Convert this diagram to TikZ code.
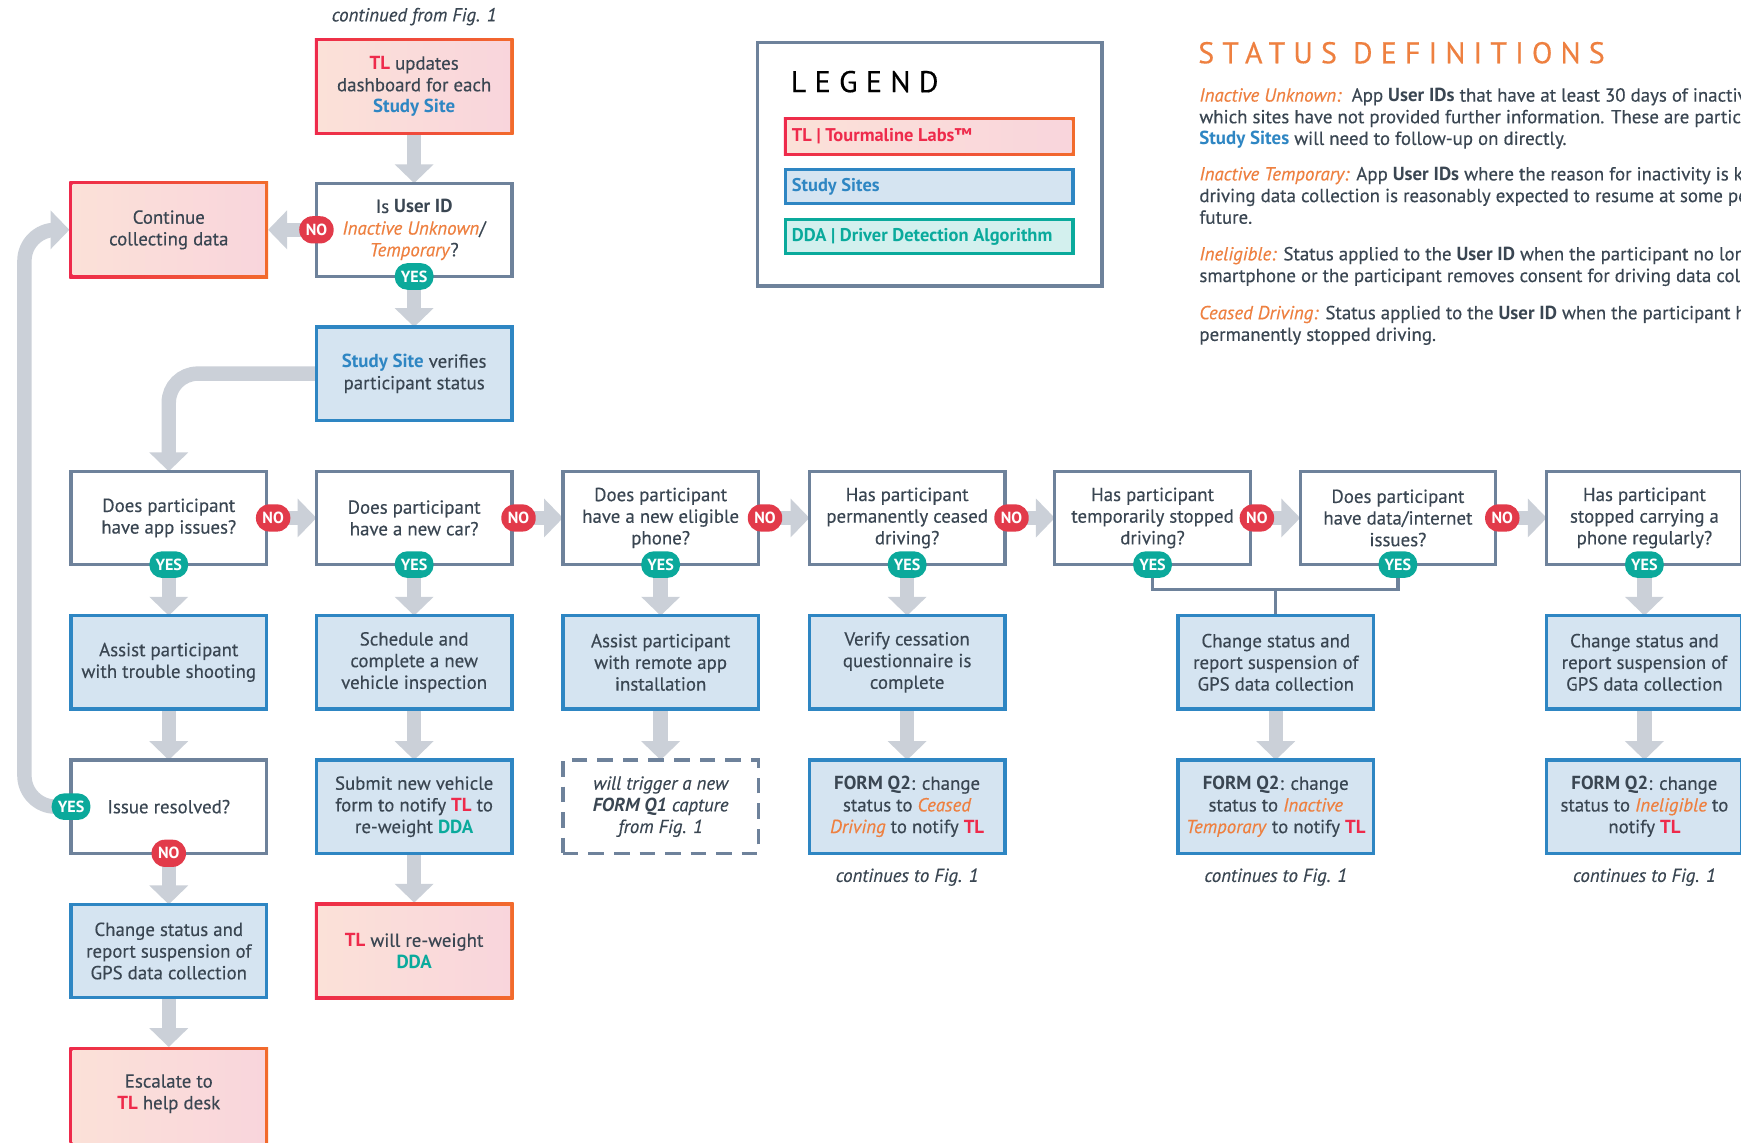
\documentclass[tikz,border=0pt]{standalone}
\usepackage{fontspec}
\setmainfont{PT Sans}[UprightFeatures={FakeBold=0.35}, ItalicFeatures={FakeBold=0.35}]
\usetikzlibrary{arrows.meta}
\definecolor{txt}{HTML}{3A4652}
\definecolor{tlred}{HTML}{EE2A4B}
\definecolor{tlorange}{HTML}{F26B2C}
\definecolor{peach}{HTML}{FBE1D8}
\definecolor{pinkf}{HTML}{F9D5DC}
\definecolor{ssblue}{HTML}{2E86C3}
\definecolor{ssfill}{HTML}{D5E4F1}
\definecolor{ddateal}{HTML}{0AAA9C}
\definecolor{ddafill}{HTML}{D3F0EE}
\definecolor{slate}{HTML}{6E829B}
\definecolor{arrowgray}{HTML}{CBD0D8}
\definecolor{nored}{HTML}{E23A4A}
\definecolor{yesteal}{HTML}{0BA99B}
\definecolor{orng}{HTML}{EE8040}
\pgfdeclarelayer{paper}
\pgfdeclarelayer{bg}
\pgfsetlayers{paper,bg,main}
\newcommand\tlmark{\textcolor{tlred}{\textbf{TL}}}
\newcommand\ssmark{\textcolor{ssblue}{\textbf{Study Site}}}
\newcommand\ddamark{\textcolor{ddateal}{\textbf{DDA}}}
\newcommand\ori[1]{\textcolor{orng}{\textit{#1}}}
\tikzset{
 base/.style={font=\fontsize{17}{19.5}\selectfont, text=txt, align=center, inner sep=0pt, outer sep=0pt},
 qbox/.style={base, draw=slate, line width=3pt, fill=white, minimum width=176pt, minimum height=84pt},
 sbox/.style={base, draw=ssblue, line width=3pt, fill=ssfill, minimum width=176pt, minimum height=84pt},
 dbox/.style={base, draw=slate, line width=3pt, dash pattern=on 14pt off 9pt, minimum width=176pt, minimum height=84pt, font=\fontsize{17}{19.5}\selectfont\itshape},
 pinkouter/.style={minimum width=179pt, minimum height=87pt, inner sep=0pt, outer sep=0pt, left color=tlred, right color=tlorange},
 bigarr/.style={draw=arrowgray, line width=13pt, -{Triangle[width=34pt,length=17pt]}},
 nob/.style={fill=nored, text=white, font=\fontsize{14.5}{14.5}\selectfont\bfseries, minimum width=31pt, minimum height=24.5pt, rounded corners=12pt, inner sep=0pt},
 yesb/.style={fill=yesteal, text=white, font=\fontsize{14.5}{14.5}\selectfont\bfseries, minimum width=35pt, minimum height=24pt, rounded corners=11.5pt, inner sep=0pt},
 joinline/.style={draw=slate, line width=3pt},
 note/.style={base, font=\fontsize{17}{19.5}\selectfont\itshape},
 defl/.style={anchor=base west, inner sep=0pt, text=txt, font=\fontsize{17}{19.5}\selectfont},
 legtext/.style={anchor=west, inner sep=0pt, font=\fontsize{16.6}{16.6}\selectfont\bfseries},
}
\newcommand\tlbox[3]{%
 \node[pinkouter] (#1) at (#2) {};
 \fill[left color=peach, right color=pinkf] ([shift={(3pt,-3pt)}]#1.north west) rectangle ([shift={(-3pt,3pt)}]#1.south east);
 \node[base] at (#1.center) {#3};
}
\begin{document}
\begin{tikzpicture}[x=1pt,y=-1pt]
\useasboundingbox (0,0) rectangle (1568,1029.4);
\begin{pgfonlayer}{paper}
\fill[white] (0,0) rectangle (1568,1029.4);
\end{pgfonlayer}

% top part
\node[note] (cf) at (373,15) {continued from Fig. 1};
\tlbox{tl}{373,78}{\tlmark{} updates\\dashboard for each\\\ssmark}
\node[qbox] (uid) at (373,207) {Is \textbf{User ID}\\\ori{Inactive Unknown}/\\\ori{Temporary}?};
\tlbox{cont}{152,207}{Continue\\collecting data}
\node[sbox] (ss) at (373,336.5) {\ssmark{} verifies\\participant status};

% decision row
\node[qbox] (d1) at (152,466.5) {Does participant\\have app issues?};
\node[qbox] (d2) at (373,466.5) {Does participant\\have a new car?};
\node[qbox] (d3) at (595,466.5) {Does participant\\have a new eligible\\phone?};
\node[qbox] (d4) at (817,466.5) {Has participant\\permanently ceased\\driving?};
\node[qbox] (d5) at (1038,466.5) {Has participant\\temporarily stopped\\driving?};
\node[qbox] (d6) at (1259,466.5) {Does participant\\have data/internet\\issues?};
\node[qbox] (d7) at (1481,466.5) {Has participant\\stopped carrying a\\phone regularly?};

% action row
\node[sbox] (a1) at (152,596.5) {Assist participant\\with trouble shooting};
\node[sbox] (a2) at (373,596.5) {Schedule and\\complete a new\\vehicle inspection};
\node[sbox] (a3) at (595,596.5) {Assist participant\\with remote app\\installation};
\node[sbox] (a4) at (817,596.5) {Verify cessation\\questionnaire is\\complete};
\node[sbox] (a56) at (1149,596.5) {Change status and\\report suspension of\\GPS data collection};
\node[sbox] (a7) at (1481,596.5) {Change status and\\report suspension of\\GPS data collection};

% third row
\node[qbox] (r1) at (152,726.5) {Issue resolved?};
\node[sbox] (b2) at (373,726.5) {Submit new vehicle\\form to notify \tlmark{} to\\re-weight \ddamark};
\node[dbox] (b3) at (595,726.5) {will trigger a new\\\textbf{FORM Q1} capture\\from Fig. 1};
\node[sbox] (b4) at (817,726.5) {\textbf{FORM Q2}: change\\status to \ori{Ceased}\\\ori{Driving} to notify \tlmark};
\node[sbox] (b56) at (1149,726.5) {\textbf{FORM Q2}: change\\status to \ori{Inactive}\\\ori{Temporary} to notify \tlmark};
\node[sbox] (b7) at (1481,726.5) {\textbf{FORM Q2}: change\\status to \ori{Ineligible} to\\notify \tlmark};

\node[note] (n4) at (817,790) {continues to Fig. 1};
\node[note] (n56) at (1149,790) {continues to Fig. 1};
\node[note] (n7) at (1481,790) {continues to Fig. 1};

% fourth / fifth
\node[sbox] (c1) at (152,856.5) {Change status and\\report suspension of\\GPS data collection};
\tlbox{c2}{373,856.5}{\tlmark{} will re-weight\\\ddamark}
\node[pinkouter, minimum height=97pt] (esc) at (152,991.5) {};
\fill[left color=peach, right color=pinkf] ([shift={(3pt,-3pt)}]esc.north west) rectangle ([shift={(-3pt,3pt)}]esc.south east);
\node[base] (esct) at (152,985) {Escalate to\\\tlmark{} help desk};

% connectors
\begin{pgfonlayer}{bg}
\draw[bigarr] (tl.south) -- (uid.north);
\draw[bigarr] (uid.south) -- (ss.north);
\draw[bigarr] (uid.west) -- (cont.east);
\draw[bigarr, rounded corners=26pt] (ss.west) -| (d1.north);
\draw[bigarr] (d1.east) -- (d2.west);
\draw[bigarr] (d2.east) -- (d3.west);
\draw[bigarr] (d3.east) -- (d4.west);
\draw[bigarr] (d4.east) -- (d5.west);
\draw[bigarr] (d5.east) -- (d6.west);
\draw[bigarr] (d6.east) -- (d7.west);
\draw[bigarr] (d1.south) -- (a1.north);
\draw[bigarr] (d2.south) -- (a2.north);
\draw[bigarr] (d3.south) -- (a3.north);
\draw[bigarr] (d4.south) -- (a4.north);
\draw[bigarr] (d7.south) -- (a7.north);
\draw[bigarr] (a1.south) -- (r1.north);
\draw[bigarr] (a2.south) -- (b2.north);
\draw[bigarr] (a3.south) -- (b3.north);
\draw[bigarr] (a4.south) -- (b4.north);
\draw[bigarr] (a56.south) -- (b56.north);
\draw[bigarr] (a7.south) -- (b7.north);
\draw[bigarr] (r1.south) -- (c1.north);
\draw[bigarr] (b2.south) -- (c2.north);
\draw[bigarr] (c1.south) -- (esc.north);
\draw[bigarr, rounded corners=28pt] (r1.west) -- ++(-42,0) |- (cont.west);
\coordinate (j) at (1149,531);
\draw[joinline] (d5.south) |- (j) -| (d6.south);
\draw[joinline] (j) -- (a56.north);
\end{pgfonlayer}

% badges
\node[nob] at (uid.west) {NO};
\node[yesb] at (uid.south) {YES};
\foreach \i in {1,...,6} {\node[nob] at ([xshift=6pt]d\i.east) {NO};}
\foreach \i in {1,...,7} {\node[yesb] at (d\i.south) {YES};}
\node[yesb] at (r1.west) {YES};
\node[nob] at (r1.south) {NO};

% legend
\node[draw=slate, line width=3pt, minimum width=310pt, minimum height=219pt, inner sep=0pt] (leg) at (837.5,148) {};
\node[anchor=base west, inner sep=0pt, text=black, font=\fontsize{27}{27}\selectfont\addfontfeature{LetterSpace=28}] (legt) at (712,83) {LEGEND};
\node[minimum width=262pt, minimum height=34pt, inner sep=0pt, left color=tlred, right color=tlorange] (l1) at (837,123) {};
\fill[left color=peach, right color=pinkf] ([shift={(3pt,-3pt)}]l1.north west) rectangle ([shift={(-3pt,3pt)}]l1.south east);
\node[legtext, text=tlred] at (713,123) {TL | Tourmaline Labs™};
\node[draw=ssblue, fill=ssfill, line width=3pt, minimum width=259pt, minimum height=31pt, inner sep=0pt] (l2) at (837,168) {};
\node[legtext, text=ssblue] at (713,168) {Study Sites};
\node[draw=ddateal, fill=ddafill, line width=3pt, minimum width=259pt, minimum height=31pt, inner sep=0pt] (l3) at (837,213) {};
\node[legtext, text=ddateal] at (713,213) {DDA | Driver Detection Algorithm};

% status definitions
\node[anchor=base west, inner sep=0pt, text=orng, font=\fontsize{27}{27}\selectfont\addfontfeature{LetterSpace=27}] (sdt) at (1079,57) {STATUS DEFINITIONS};
\node[defl] at (1080,91.5) {\ori{Inactive Unknown:}\ \ App \textbf{User IDs} that have at least 30 days of inactivity};
\node[defl] at (1080,111) {which sites have not provided further information. These are participants};
\node[defl] at (1080,130.5) {\textcolor{ssblue}{\textbf{Study Sites}} will need to follow-up on directly.};
\node[defl] at (1080,162.5) {\ori{Inactive Temporary:} App \textbf{User IDs} where the reason for inactivity is known};
\node[defl] at (1080,182) {driving data collection is reasonably expected to resume at some point};
\node[defl] at (1080,201.5) {future.};
\node[defl] at (1080,234.5) {\ori{Ineligible:} Status applied to the \textbf{User ID} when the participant no longer};
\node[defl] at (1080,254) {smartphone or the participant removes consent for driving data collection.};
\node[defl] at (1080,287.5) {\ori{Ceased Driving:} Status applied to the \textbf{User ID} when the participant has};
\node[defl] at (1080,307) {permanently stopped driving.};
\end{tikzpicture}
\end{document}
